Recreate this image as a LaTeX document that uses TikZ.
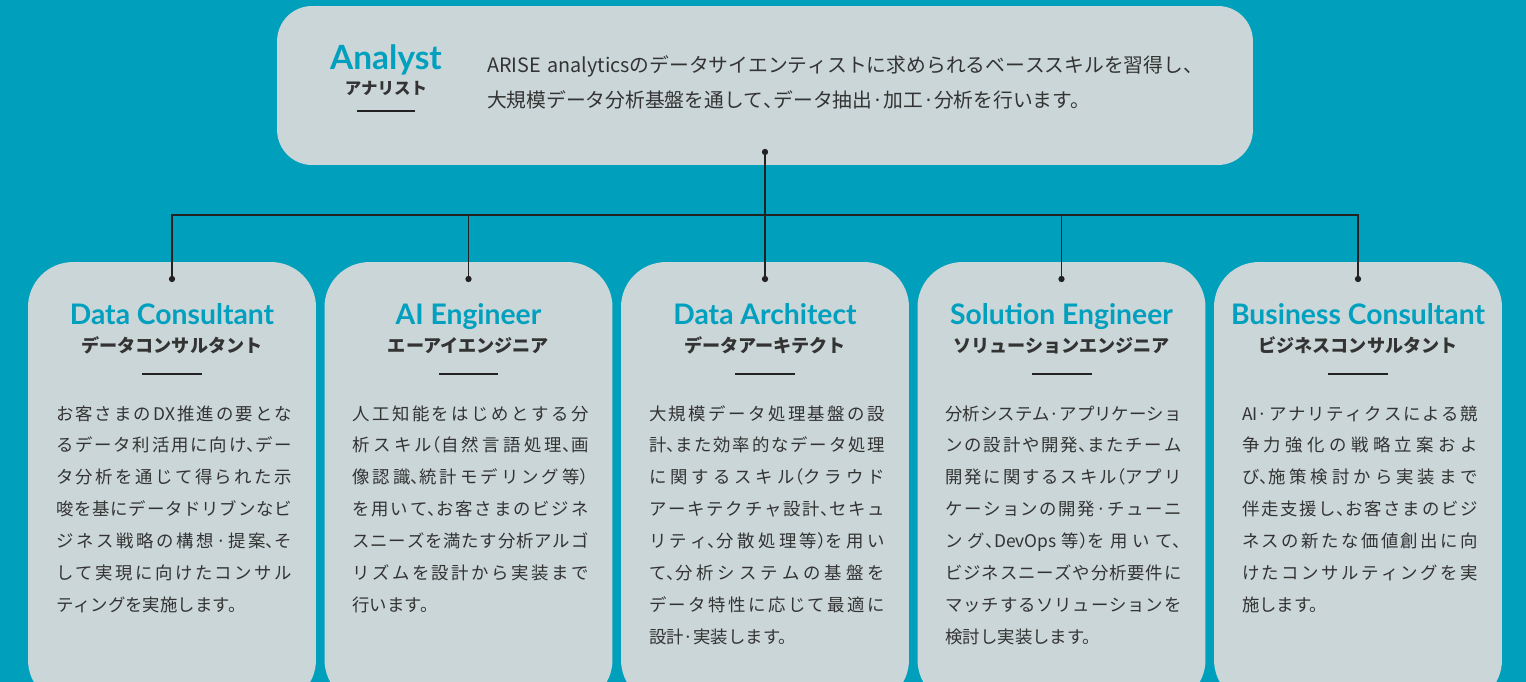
\documentclass[tikz,border=0pt]{standalone}
\usepackage{fontspec}
\setmainfont{Noto Sans CJK JP}
\newfontfamily\halfjp{Noto Sans CJK JP}[RawFeature={+halt}]
\newfontfamily\rolefont{Lato}
\newcommand\hw[1]{{\halfjp #1}}
\XeTeXlinebreaklocale "ja"
\XeTeXlinebreakskip=0pt plus 3pt

\definecolor{bgteal}{HTML}{00A0BC}
\definecolor{cardgray}{HTML}{CBD6D8}
\definecolor{roleteal}{HTML}{00A0BE}
\definecolor{inkgray}{HTML}{333333}
\definecolor{wireblack}{HTML}{222222}

\begin{document}
\begin{tikzpicture}[
        x=0.02cm, y=-0.02cm,
        every node/.style={inner sep=0pt, outer sep=0pt},
        headbox/.style={fill=cardgray, rounded corners=0.7cm, minimum width=19.52cm, minimum height=3.18cm},
        card/.style={fill=cardgray, rounded corners=0.9cm, minimum width=5.76cm, minimum height=8.86cm},
        role/.style={anchor=base, font=\rolefont\bfseries\fontsize{16.1}{19}\selectfont, text=roleteal},
        kana/.style={anchor=base, font=\bfseries\fontsize{10.3}{12}\selectfont, text=inkgray},
        bar/.style={fill=wireblack, minimum width=1.2cm, minimum height=0.8pt},
        blurb/.style={anchor=base west, text width=4.72cm, align=justify, font=\fontsize{9.9}{18.14}\selectfont, text=inkgray},
        wire/.style={draw=wireblack, line width=0.85pt},
        dot/.style={circle, fill=wireblack, minimum size=3.6pt}
    ]
        \clip (0,0) rectangle (1526,682);
        \fill[bgteal] (0,0) rectangle (1526,682);

        % head box
        \node[headbox] (analyst) at (765,85.5) {};
        \node[role, font=\rolefont\bfseries\fontsize{19}{22}\selectfont] (analysttitle) at (386,70) {Analyst};
        \node[kana, font=\bfseries\fontsize{9.4}{11}\selectfont] (analystkana) at (386,95) {アナリスト};
        \node[bar, minimum width=1.18cm] (analystbar) at (386,111) {};
        \node[anchor=base west, text width=15cm, align=left, font=\fontsize{11.25}{19.8}\selectfont, text=inkgray] (analystblurb) at (487,73)
            {ARISE analyticsのデータサイエンティストに求められるベーススキルを習得し\hw{、}\\大規模データ分析基盤を通して\hw{、}データ抽出·加工·分析を行います。};

        % cards
        \node[card] (dc) at (172,483.5) {};
        \node[card] (ae) at (468.5,483.5) {};
        \node[card] (da) at (765,483.5) {};
        \node[card] (se) at (1061.5,483.5) {};
        \node[card] (bc) at (1358,483.5) {};

        \node[role] (dctitle) at (172,325) {Data Consultant};
        \node[kana] (dckana) at (172,353) {データコンサルタント};
        \node[bar] (dcbar) at (172,374) {};
        \node[blurb] (dcblurb) at (56,420) {お客さまのDX推進の要とな\linebreak るデータ利活用に向け\hw{、}デー\linebreak タ分析を通じて得られた示\linebreak 唆を基にデータドリブンなビ\linebreak ジネス戦略の構想·提案\hw{、}そ\linebreak して実現に向けたコンサル\linebreak ティングを実施します。};

        \node[role] (aetitle) at (468.5,325) {AI Engineer};
        \node[kana] (aekana) at (468.5,353) {エーアイエンジニア};
        \node[bar] (aebar) at (468.5,374) {};
        \node[blurb] (aeblurb) at (352.5,420) {人工知能をはじめとする分\linebreak 析スキル\hw{（}自然言語処理\hw{、}画\linebreak 像認識\hw{、}統計モデリング等\hw{）}\linebreak を用いて\hw{、}お客さまのビジネ\linebreak スニーズを満たす分析アルゴ\linebreak リズムを設計から実装まで\linebreak 行います。};

        \node[role] (datitle) at (765,325) {Data Architect};
        \node[kana] (dakana) at (765,353) {データアーキテクト};
        \node[bar] (dabar) at (765,374) {};
        \node[blurb] (dablurb) at (649,420) {大規模データ処理基盤の設\linebreak 計\hw{、}また効率的なデータ処理\linebreak に関するスキル\hw{（}クラウド\linebreak アーキテクチャ設計\hw{、}セキュ\linebreak リティ\hw{、}分散処理等\hw{）}を用い\linebreak て\hw{、}分析システムの基盤を\linebreak データ特性に応じて最適に\linebreak 設計·実装します。};

        \node[role] (setitle) at (1061.5,325) {Solution Engineer};
        \node[kana] (sekana) at (1061.5,353) {ソリューションエンジニア};
        \node[bar] (sebar) at (1061.5,374) {};
        \node[blurb] (seblurb) at (945.5,420) {分析システム·アプリケーショ\linebreak ンの設計や開発\hw{、}またチーム\linebreak 開発に関するスキル\hw{（}アプリ\linebreak ケーションの開発·チューニ\linebreak ング\hw{、}DevOps等\hw{）}を用いて\hw{、}\linebreak ビジネスニーズや分析要件に\linebreak マッチするソリューションを\linebreak 検討し実装します。};

        \node[role] (bctitle) at (1358,325) {Business Consultant};
        \node[kana] (bckana) at (1358,353) {ビジネスコンサルタント};
        \node[bar] (bcbar) at (1358,374) {};
        \node[blurb] (bcblurb) at (1242,420) {AI·アナリティクスによる競\linebreak 争力強化の戦略立案およ\linebreak び\hw{、}施策検討から実装まで\linebreak 伴走支援し\hw{、}お客さまのビジ\linebreak ネスの新たな価値創出に向\linebreak けたコンサルティングを実\linebreak 施します。};

        % connectors
        \node[dot] (hub) at (765,152) {};
        \coordinate (bus) at (765,215);
        \node[dot] (dcdot) at (172,279) {};
        \node[dot] (aedot) at (468.5,279) {};
        \node[dot] (dadot) at (765,279) {};
        \node[dot] (sedot) at (1061.5,279) {};
        \node[dot] (bcdot) at (1358,279) {};
        \draw[wire] (hub) -- (dadot);
        \draw[wire] (dcdot) |- (bus) -| (bcdot);
        \draw[wire] (aedot) -- (aedot |- bus);
        \draw[wire] (sedot) -- (sedot |- bus);
    \end{tikzpicture}
\end{document}
